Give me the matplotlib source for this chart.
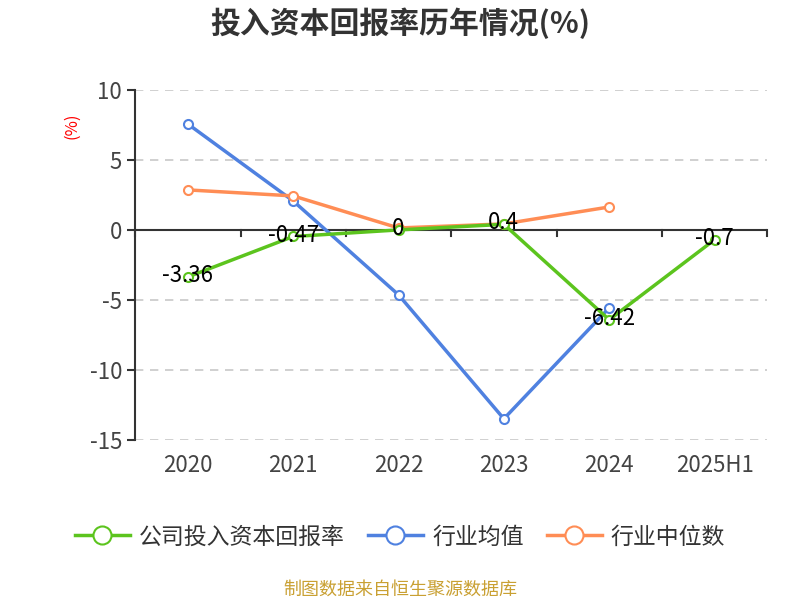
import numpy as np
import matplotlib.pyplot as plt

plt.rcParams['font.family'] = ['Noto Sans CJK SC', 'DejaVu Sans']

# data
years = ['2020', '2021', '2022', '2023', '2024', '2025H1']
company = [-3.36, -0.47, 0, 0.4, -6.42, -0.7]
industry_avg = [7.57, 2.07, -4.64, -13.5, -5.57]
industry_mid = [2.86, 2.43, 0.14, 0.43, 1.64]

green = '#5cc41e'
blue = '#4f81e0'
orange = '#ff8d55'

fig = plt.figure(figsize=(8, 6), dpi=100)
ax = fig.add_axes([0.169, 0.267, 0.79, 0.583])

x = np.arange(len(years))

ax.plot(x[:len(industry_avg)], industry_avg, color=blue, lw=2.5, marker='o',
        ms=6.5, mfc='white', mec=blue, mew=1.5, label='行业均值', zorder=3)
ax.plot(x[:len(industry_mid)], industry_mid, color=orange, lw=2.5, marker='o',
        ms=6.5, mfc='white', mec=orange, mew=1.5, label='行业中位数', zorder=3)
ax.plot(x, company, color=green, lw=2.5, marker='o',
        ms=6.5, mfc='white', mec=green, mew=1.5, label='公司投入资本回报率', zorder=4)

for xi, v in zip(x, company):
    ax.text(xi, v + 0.1, f'{v:g}', ha='center', va='center', fontsize=16,
            color='black', zorder=5)

ax.set_xlim(-0.5, len(years) - 0.5)
ax.set_ylim(-15, 10)
ax.set_yticks([10, 5, 0, -5, -10, -15])
ax.set_yticklabels(['10', '5', '0', '-5', '-10', '-15'])
ax.tick_params(axis='y', labelsize=16, colors='#333333', length=6, width=1.5)
ax.tick_params(axis='y', labelcolor='#444444')

for y in [10, 5, -5, -10, -15]:
    ax.axhline(y, color='#c8c8c8', lw=1.2, ls=(0, (5, 4)), zorder=1)
ax.axhline(0, color='#333333', lw=1.5, zorder=2)

# x ticks at category boundaries along zero line
for b in np.arange(-0.5, len(years), 1.0):
    ax.plot([b, b], [0, -0.45], color='#333333', lw=1.5, zorder=2, clip_on=False)

ax.set_xticks(x)
ax.set_xticklabels(years)
ax.tick_params(axis='x', length=0, labelsize=16, labelcolor='#444444', pad=10)

for s in ['top', 'right', 'bottom']:
    ax.spines[s].set_visible(False)
ax.spines['left'].set_color('#333333')
ax.spines['left'].set_linewidth(1.5)

fig.text(0.09, 0.79, '(%)', color='red', rotation=90, fontsize=12,
         ha='center', va='center')

fig.text(0.5, 0.962, '投入资本回报率历年情况(%)', ha='center', va='center',
         fontsize=21.5, fontweight='bold', color='#333333')

handles, labels = ax.get_legend_handles_labels()
order = [2, 0, 1]
leg = fig.legend([handles[i] for i in order], [labels[i] for i in order],
                 loc='center', bbox_to_anchor=(0.5, 0.105), ncol=3, frameon=False,
                 fontsize=16.5, handlelength=2.4, columnspacing=1.0, handletextpad=0.4)
for t in leg.get_texts():
    t.set_color('#333333')
for h in leg.legend_handles:
    h.set_markersize(13)

fig.text(0.5, 0.017, '制图数据来自恒生聚源数据库', ha='center', va='center',
         fontsize=13, color='#c9a032')

plt.savefig('out.png', dpi=100)
